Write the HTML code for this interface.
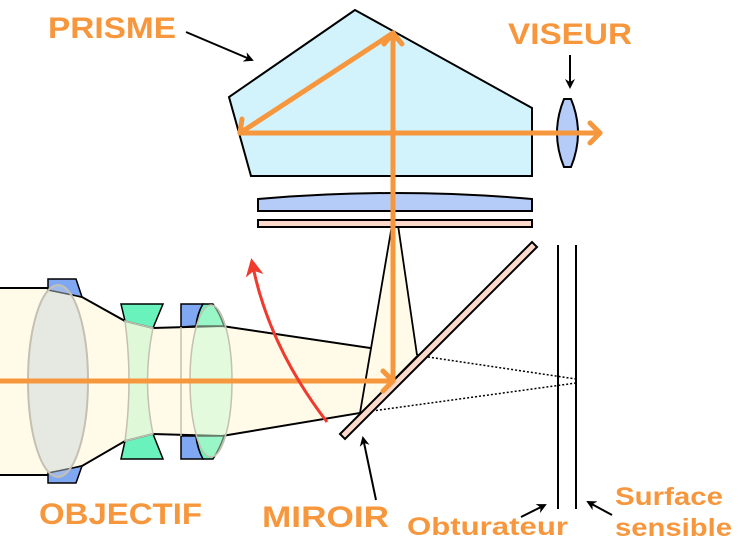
<!DOCTYPE html>
<html><head><meta charset="utf-8"><style>
html,body{margin:0;padding:0;background:#fff}
svg{display:block}
text{font-family:"Liberation Sans",sans-serif;font-weight:bold;fill:#f7973d}
</style></head><body>
<svg width="740" height="548" viewBox="0 0 740 548" xmlns="http://www.w3.org/2000/svg">
<defs>
<marker id="ab" markerWidth="10" markerHeight="10" refX="8" refY="5" orient="auto" markerUnits="userSpaceOnUse"><path d="M0,0 L10,5 L0,10 L3,5 Z" fill="#000"/></marker>
<marker id="ar" markerWidth="18" markerHeight="18" refX="14" refY="9" orient="auto" markerUnits="userSpaceOnUse"><path d="M0,0 L18,9 L0,18 L5,9 Z" fill="#f03a2e"/></marker>
</defs>
<path d="M0,288 L48,288 L82,297 L125,321 L153,328 L222,326 L417,355 L360,413 L222,436 L153,434 L125,441 L82,466 L48,475 L0,475" fill="#fffbe8" stroke="#000" stroke-width="2"/>
<path d="M360,413 L392,225 L398,225 L417,355" fill="#fffbe8" stroke="#000" stroke-width="1.8"/>
<path d="M48,279 L76,279 L82,297 L48,290 Z" fill="#7fa7f2" stroke="#000" stroke-width="1.5"/>
<path d="M48,483 L76,483 L82,466 L48,473 Z" fill="#7fa7f2" stroke="#000" stroke-width="1.5"/>
<ellipse cx="58" cy="381" rx="30" ry="96" fill="rgba(200,210,220,0.45)" stroke="#c4c0b2" stroke-width="2"/>
<path d="M121,304 L163,304 L153,328 L125,321 Z" fill="#6af2bd" stroke="#000" stroke-width="1.5"/>
<path d="M121,459 L163,459 L153,434 L125,441 Z" fill="#6af2bd" stroke="#000" stroke-width="1.5"/>
<path d="M125,321 Q133,381 125,441 L153,434 Q142,381 153,328 Z" fill="rgba(190,245,200,0.5)" stroke="#c4c0b2" stroke-width="1.5"/>
<path d="M181,304 L203,304 Q197,314 196,326 L181,327 Z" fill="#7fa7f2" stroke="#000" stroke-width="1.5"/>
<path d="M181,459 L203,459 Q197,448 196,436 L181,436 Z" fill="#7fa7f2" stroke="#000" stroke-width="1.5"/>
<path d="M203,304 L213,304 Q220,314 224,326 L196,326 Q198,312 203,304 Z" fill="#6af2bd" stroke="#000" stroke-width="1.5"/>
<path d="M203,459 L213,459 Q220,448 224,436 L196,436 Q198,450 203,459 Z" fill="#6af2bd" stroke="#000" stroke-width="1.5"/>
<path d="M181,327 L181,436" stroke="#c4c0b2" stroke-width="1.5"/>
<ellipse cx="211" cy="381" rx="21" ry="76" fill="rgba(200,250,210,0.5)" stroke="#c4c0b2" stroke-width="1.5"/>
<path d="M428,357 L576,379 M372,411 L576,383" stroke="#000" stroke-width="1.5" stroke-dasharray="2,2"/>
<path d="M340,434 L532,242 L537,247 L345,439 Z" fill="#fcd9cb" stroke="#000" stroke-width="2"/>
<path d="M558,245 L558,509 M576,245 L576,509" stroke="#000" stroke-width="2"/>
<path d="M355,10 L229,97 L251,176 L532,176 L532,108 Z" fill="#d3f3fc" stroke="#000" stroke-width="2"/>
<path d="M258,211 L258,199 Q395,187 532,199 L532,211 Z" fill="#b6ccf8" stroke="#000" stroke-width="2"/>
<rect x="258" y="220" width="274" height="7" fill="#fcd9cb" stroke="#000" stroke-width="2"/>
<path d="M564,99 L571,99 Q585,133 571,167 L564,167 Q550,133 564,99 Z" fill="#b6ccf8" stroke="#000" stroke-width="2"/>
<g stroke="#f7973d" stroke-width="5" fill="none" stroke-linecap="round" stroke-linejoin="round">
<path d="M0,381 L393,381"/>
<path d="M383,371 L393,381 L383,391"/>
<path d="M393,381 L393,33"/>
<path d="M384,44 L393,33 L402,44"/>
<path d="M393,33 L240,133"/>
<path d="M242,119 L240,133 L254,133"/>
<path d="M240,133 L600,133"/>
<path d="M590,123 L600,133 L590,143"/>
</g>
<path d="M327,422 Q268,345 252,262" stroke="#f03a2e" stroke-width="3" fill="none" marker-end="url(#ar)"/>
<g stroke="#000" stroke-width="2" fill="none">
<path d="M186,32 L252,60" marker-end="url(#ab)"/>
<path d="M570,55 L570,87" marker-end="url(#ab)"/>
<path d="M376,500 L363,438" marker-end="url(#ab)"/>
<path d="M521,517 L545,505" marker-end="url(#ab)"/>
<path d="M612,515 L588,502" marker-end="url(#ab)"/>
</g>
<text x="48" y="38" font-size="30" textLength="128" lengthAdjust="spacingAndGlyphs">PRISME</text>
<text x="508" y="44" font-size="30" textLength="124" lengthAdjust="spacingAndGlyphs">VISEUR</text>
<text x="39" y="524" font-size="30" textLength="163" lengthAdjust="spacingAndGlyphs">OBJECTIF</text>
<text x="262" y="527" font-size="30" textLength="127" lengthAdjust="spacingAndGlyphs">MIROIR</text>
<text x="407" y="535" font-size="25" textLength="161" lengthAdjust="spacingAndGlyphs">Obturateur</text>
<text x="615" y="505" font-size="25" textLength="108" lengthAdjust="spacingAndGlyphs">Surface</text>
<text x="615" y="536" font-size="25" textLength="117" lengthAdjust="spacingAndGlyphs">sensible</text>
</svg>
</body></html>
